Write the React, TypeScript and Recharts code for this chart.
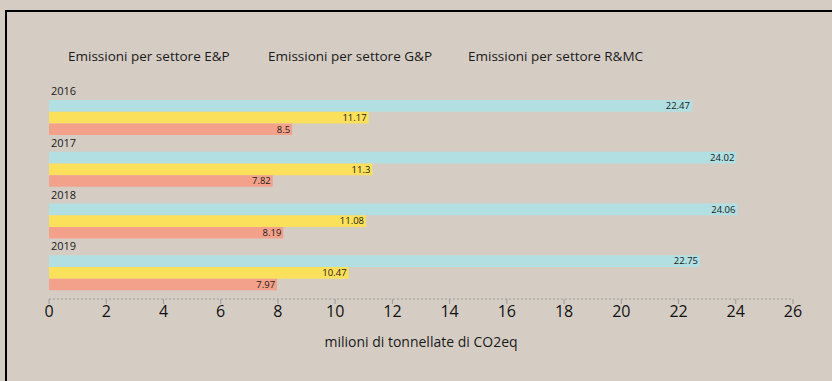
import React from 'react';
import { BarChart, Bar, XAxis, YAxis, LabelList } from 'recharts';

const years = ['2016', '2017', '2018', '2019'];
const seriesNames = ['Emissioni per settore E&P', 'Emissioni per settore G&P', 'Emissioni per settore R&MC'];
const epValues = [22.47, 24.02, 24.06, 22.75];
const gpValues = [11.17, 11.3, 11.08, 10.47];
const rmcValues = [8.5, 7.82, 8.19, 7.97];
const xTicks = [0, 2, 4, 6, 8, 10, 12, 14, 16, 18, 20, 22, 24, 26];

const colors = ['#b2dfe1', '#fbe05b', '#f3a18b'];
const FONT = '"Open Sans", "Noto Sans", sans-serif';

const data = years.map((year, i) => ({
  year,
  ep: epValues[i],
  gp: gpValues[i],
  rmc: rmcValues[i],
}));

const YearLabel = (props: any) => {
  const { x, y, value } = props;
  return (
    <text x={x + 2} y={y - 5} fontSize={11} fill="#1a1a1a" fontFamily={FONT}>
      {value}
    </text>
  );
};

export default function App() {
  return (
    <div
      style={{
        position: 'fixed',
        left: 0,
        top: 0,
        right: 0,
        bottom: 0,
        background: '#d5cdc4',
        fontFamily: FONT,
        overflow: 'hidden',
      }}
    >
      {/* legend, text only */}
      <div style={{ position: 'absolute', top: 47, left: 68, display: 'flex', fontSize: 13.5, color: '#1a1a1a' }}>
        {seriesNames.map((n) => (
          <div key={n} style={{ width: 200, whiteSpace: 'nowrap' }}>{n}</div>
        ))}
      </div>
      <div style={{ position: 'absolute', left: 0, top: 0, width: 832, height: 381 }}>
        <BarChart
          width={832}
          height={381}
          data={data}
          layout="vertical"
          margin={{ top: 92, right: 39, bottom: 32, left: 49 }}
          barGap={0}
          barSize={11.7}
          accessibilityLayer={false}
          style={{ outline: 'none' }}
        >
          <XAxis
            type="number"
            domain={[0, 26]}
            ticks={xTicks}
            interval={0}
            height={50}
            axisLine={{ stroke: '#9a9a9a', strokeDasharray: '2 2' }}
            tickLine={{ stroke: '#9a9a9a' }}
            tickSize={5}
            tickMargin={2}
            tick={{ fontSize: 16, fill: '#111', fontFamily: FONT }}
            label={{ value: 'milioni di tonnellate di CO2eq', position: 'insideBottom', offset: 2, fontSize: 14, fill: '#1a1a1a', fontFamily: FONT }}
          />
          <YAxis type="category" dataKey="year" hide />
          <Bar dataKey="ep" name={seriesNames[0]} fill={colors[0]} isAnimationActive={false}>
            <LabelList dataKey="year" content={YearLabel} />
            <LabelList dataKey="ep" position="insideRight" offset={2} fontSize={9.5} fill="#1a1a1a" fontFamily={FONT} />
          </Bar>
          <Bar dataKey="gp" name={seriesNames[1]} fill={colors[1]} isAnimationActive={false}>
            <LabelList dataKey="gp" position="insideRight" offset={2} fontSize={9.5} fill="#1a1a1a" fontFamily={FONT} />
          </Bar>
          <Bar dataKey="rmc" name={seriesNames[2]} fill={colors[2]} isAnimationActive={false}>
            <LabelList dataKey="rmc" position="insideRight" offset={2} fontSize={9.5} fill="#1a1a1a" fontFamily={FONT} />
          </Bar>
        </BarChart>
      </div>
      {/* frame: top and left lines only */}
      <div style={{ position: 'absolute', left: 5, top: 10, right: 0, height: 2, background: '#000' }} />
      <div style={{ position: 'absolute', left: 5, top: 10, width: 2, bottom: 0, background: '#000' }} />
    </div>
  );
}
